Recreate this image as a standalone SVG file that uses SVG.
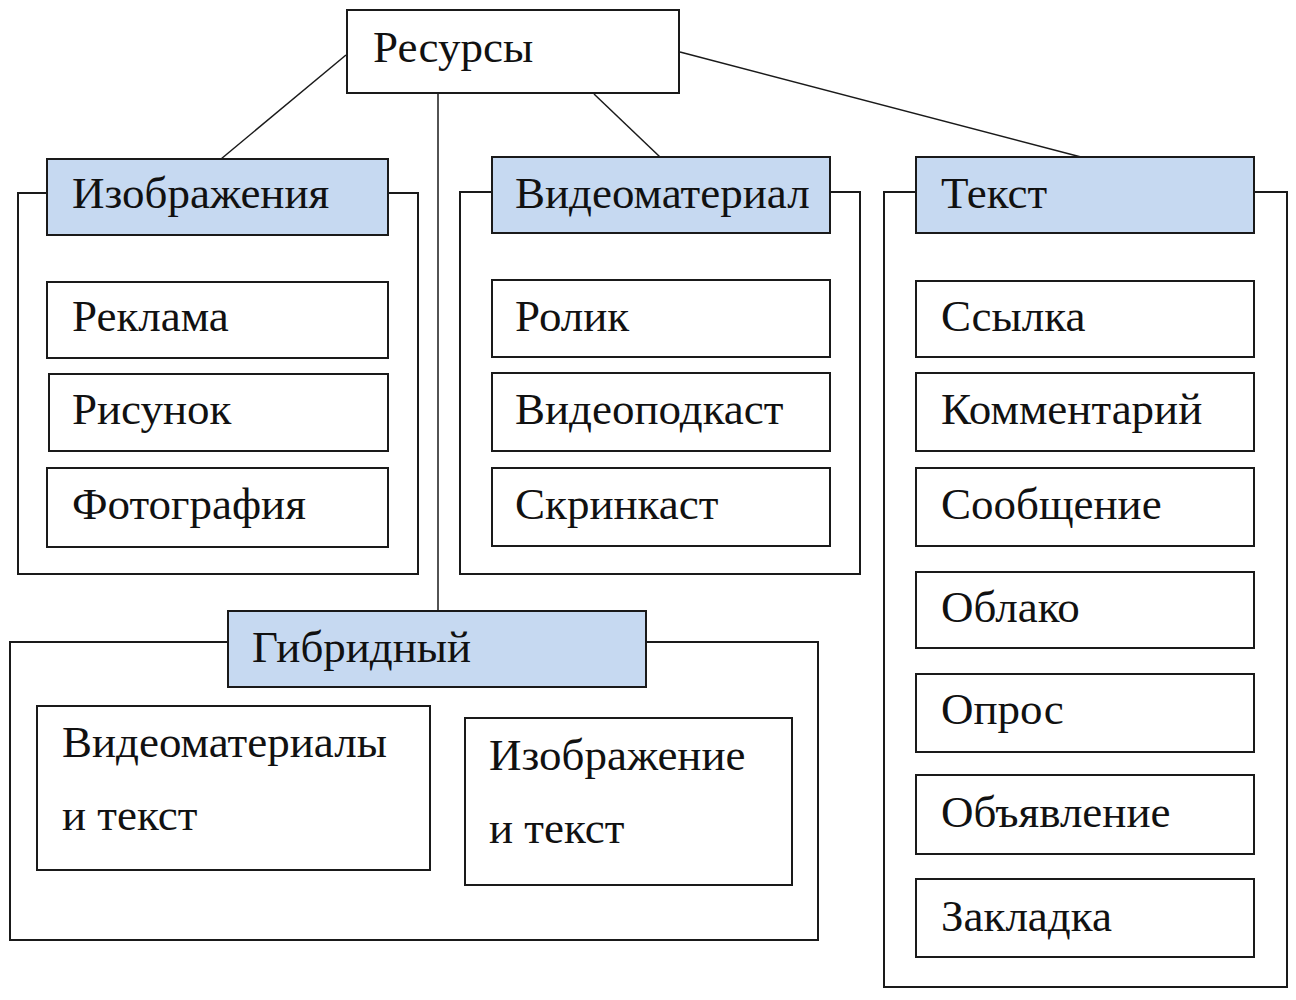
<svg xmlns="http://www.w3.org/2000/svg" width="1296" height="1000" viewBox="0 0 1296 1000">
<style>
.box{fill:#fff;stroke:#1a1a1a;stroke-width:2}
.hdr{fill:#c6d9f1;stroke:#1a1a1a;stroke-width:2}
.cont{fill:none;stroke:#1a1a1a;stroke-width:2}
.conn{stroke:#1a1a1a;stroke-width:1.5;fill:none}
text{font-family:"Liberation Serif","Times New Roman",serif;font-size:45px;fill:#111}
</style>
<rect width="1296" height="1000" fill="#fff"/>
<g id="containers">
<rect class="cont" x="18" y="193" width="400" height="381"/>
<rect class="cont" x="460" y="192" width="400" height="382"/>
<rect class="cont" x="884" y="192" width="403" height="795"/>
<rect class="cont" x="10" y="642" width="808" height="298"/>
</g>
<g id="connectors">
<line class="conn" x1="346" y1="55" x2="221" y2="159"/>
<line class="conn" x1="594" y1="94" x2="660" y2="157"/>
<line class="conn" x1="680" y1="52" x2="1081" y2="157"/>
<line class="conn" x1="438" y1="93" x2="438" y2="611"/>
</g>
<g id="resursy"><rect class="box" x="347" y="10" width="332" height="83"/><text x="373" y="62">Ресурсы</text></g>
<g id="izobrazheniya"><rect class="hdr" x="47" y="159" width="341" height="76"/><text x="72" y="208">Изображения</text></g>
<g id="reklama"><rect class="box" x="47" y="282" width="341" height="76"/><text x="72" y="331">Реклама</text></g>
<g id="risunok"><rect class="box" x="49" y="374" width="339" height="77"/><text x="72" y="424">Рисунок</text></g>
<g id="foto"><rect class="box" x="47" y="468" width="341" height="79"/><text x="72" y="519">Фотография</text></g>
<g id="video"><rect class="hdr" x="492" y="157" width="338" height="76"/><text x="515" y="208">Видеоматериал</text></g>
<g id="rolik"><rect class="box" x="492" y="280" width="338" height="77"/><text x="515" y="331">Ролик</text></g>
<g id="videopodkast"><rect class="box" x="492" y="373" width="338" height="78"/><text x="515" y="424">Видеоподкаст</text></g>
<g id="skrinkast"><rect class="box" x="492" y="468" width="338" height="78"/><text x="515" y="519">Скринкаст</text></g>
<g id="tekst"><rect class="hdr" x="916" y="157" width="338" height="76"/><text x="941" y="208">Текст</text></g>
<g id="ssylka"><rect class="box" x="916" y="281" width="338" height="76"/><text x="941" y="331">Ссылка</text></g>
<g id="kommentariy"><rect class="box" x="916" y="373" width="338" height="78"/><text x="941" y="424">Комментарий</text></g>
<g id="soobshchenie"><rect class="box" x="916" y="468" width="338" height="78"/><text x="941" y="519">Сообщение</text></g>
<g id="oblako"><rect class="box" x="916" y="572" width="338" height="76"/><text x="941" y="622">Облако</text></g>
<g id="opros"><rect class="box" x="916" y="674" width="338" height="78"/><text x="941" y="724">Опрос</text></g>
<g id="obyavlenie"><rect class="box" x="916" y="775" width="338" height="79"/><text x="941" y="827">Объявление</text></g>
<g id="zakladka"><rect class="box" x="916" y="879" width="338" height="78"/><text x="941" y="931">Закладка</text></g>
<g id="gibridnyy"><rect class="hdr" x="228" y="611" width="418" height="76"/><text x="252" y="662">Гибридный</text></g>
<g id="video-tekst"><rect class="box" x="37" y="706" width="393" height="164"/><text x="62" y="757">Видеоматериалы</text><text x="62" y="830">и текст</text></g>
<g id="izobr-tekst"><rect class="box" x="465" y="718" width="327" height="167"/><text x="489" y="770">Изображение</text><text x="489" y="843">и текст</text></g>
</svg>
